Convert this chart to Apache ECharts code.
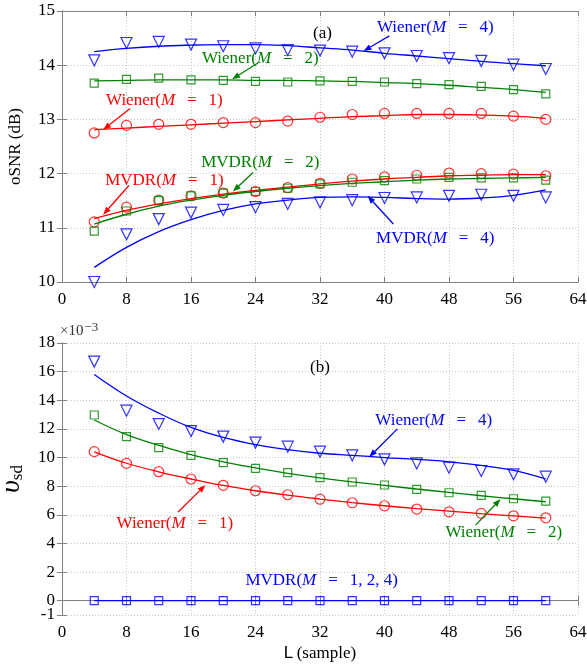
<!DOCTYPE html>
<html>
<head>
<meta charset="utf-8">
<script src="https://cdn.jsdelivr.net/npm/echarts@6/dist/echarts.min.js"></script>
<style>
  html, body { margin: 0; padding: 0; background: #fff; }
  #chart { width: 587px; height: 666px; }
</style>
</head>
<body>
<div id="chart"></div>
<script>
// frame lengths L (sample)
const L = [4, 8, 12, 16, 20, 24, 28, 32, 36, 40, 44, 48, 52, 56, 60]

// (a) oSNR in dB - markers
const snrWiener4 = [14.09, 14.41, 14.43, 14.38, 14.35, 14.31, 14.28, 14.27, 14.25, 14.22, 14.17, 14.13, 14.08, 14.01, 13.93]
const snrWiener2 = [13.67, 13.74, 13.76, 13.73, 13.72, 13.70, 13.69, 13.71, 13.70, 13.69, 13.66, 13.64, 13.61, 13.55, 13.47]
const snrWiener1 = [12.75, 12.89, 12.91, 12.91, 12.94, 12.94, 12.97, 13.04, 13.09, 13.11, 13.11, 13.11, 13.11, 13.06, 13.00]
const snrMvdr1 = [11.11, 11.38, 11.51, 11.59, 11.64, 11.67, 11.74, 11.82, 11.90, 11.94, 11.97, 12.01, 12.00, 11.99, 11.96]
const snrMvdr2 = [10.94, 11.31, 11.50, 11.59, 11.64, 11.67, 11.73, 11.81, 11.84, 11.87, 11.90, 11.93, 11.92, 11.92, 11.88]
const snrMvdr4 = [10.00, 10.88, 11.16, 11.28, 11.33, 11.38, 11.44, 11.47, 11.51, 11.55, 11.56, 11.59, 11.61, 11.59, 11.56]
// (a) fitted curves
const snrWiener4Fit = [14.25, 14.31, 14.35, 14.37, 14.38, 14.38, 14.36, 14.32, 14.28, 14.22, 14.17, 14.12, 14.07, 14.03, 13.99]
const snrWiener2Fit = [13.71, 13.72, 13.73, 13.73, 13.73, 13.72, 13.72, 13.71, 13.70, 13.68, 13.66, 13.63, 13.59, 13.55, 13.50]
const snrWiener1Fit = [12.81, 12.84, 12.87, 12.90, 12.93, 12.96, 12.99, 13.02, 13.05, 13.07, 13.09, 13.09, 13.08, 13.06, 13.02]
const snrMvdr1Fit = [11.17, 11.32, 11.44, 11.54, 11.62, 11.69, 11.75, 11.81, 11.86, 11.90, 11.93, 11.96, 11.97, 11.98, 11.98]
const snrMvdr2Fit = [11.07, 11.25, 11.40, 11.51, 11.60, 11.67, 11.73, 11.78, 11.82, 11.85, 11.88, 11.90, 11.91, 11.92, 11.93]
const snrMvdr4Fit = [10.27, 10.64, 10.93, 11.15, 11.32, 11.44, 11.51, 11.56, 11.57, 11.56, 11.54, 11.53, 11.55, 11.60, 11.70]

// (b) v_sd, x 1e-3 - markers
const vsdWiener4 = [16.70, 13.27, 12.34, 11.85, 11.46, 11.04, 10.76, 10.41, 10.15, 9.87, 9.59, 9.29, 9.06, 8.83, 8.66]
const vsdWiener2 = [12.97, 11.46, 10.69, 10.15, 9.64, 9.24, 8.94, 8.59, 8.29, 8.08, 7.78, 7.54, 7.35, 7.12, 6.96]
const vsdWiener1 = [10.41, 9.59, 9.01, 8.50, 8.06, 7.68, 7.40, 7.09, 6.84, 6.63, 6.40, 6.21, 6.10, 5.93, 5.79]
const vsdMvdr = [0, 0, 0, 0, 0, 0, 0, 0, 0, 0, 0, 0, 0, 0, 0]
// (b) fitted curves
const vsdWiener4Fit = [15.80, 14.30, 13.10, 12.10, 11.40, 10.90, 10.55, 10.30, 10.15, 10.00, 9.87, 9.70, 9.45, 9.10, 8.50]
const vsdWiener2Fit = [12.62, 11.60, 10.85, 10.20, 9.70, 9.27, 8.90, 8.58, 8.30, 8.05, 7.80, 7.56, 7.33, 7.12, 6.91]
const vsdWiener1Fit = [10.40, 9.60, 9.00, 8.50, 8.05, 7.68, 7.37, 7.10, 6.85, 6.63, 6.43, 6.25, 6.08, 5.92, 5.76]

// tick labels of the lower y axis (-1 drawn on its own axis so it is not hidden)
const vsdTicks = [-1, 0, 2, 4, 6, 8, 10, 12, 14, 16, 18]
const vsdLabels = [0, 2, 4, 6, 8, 10, 12, 14, 16, 18]
const vsdMinLabel = [-1]

// annotations: text centre and arrow (tail -> head) in data units
const annotA = [
  { pre: '(a)', color: '#000', x: 32.3, y: 14.59 },
  { pre: 'Wiener(', m: '4', color: '#0000ff', x: 46.3, y: 14.70, from: [40.6, 14.54], to: [37.4, 14.26] },
  { pre: 'Wiener(', m: '2', color: '#008000', x: 24.6, y: 14.13, from: [24.3, 14.04], to: [21.1, 13.74] },
  { pre: 'Wiener(', m: '1', color: '#ff0000', x: 12.7, y: 13.35, from: [8.45, 13.20], to: [5.1, 12.81] },
  { pre: 'MVDR(', m: '2', color: '#008000', x: 24.6, y: 12.20, from: [23.7, 12.02], to: [21.2, 11.67] },
  { pre: 'MVDR(', m: '1', color: '#ff0000', x: 12.7, y: 11.87, from: [8.3, 11.78], to: [5.1, 11.24] },
  { pre: 'MVDR(', m: '4', color: '#0000ff', x: 46.3, y: 10.81, from: [41.1, 11.07], to: [37.9, 11.59] }
]
const annotB = [
  { pre: '(b)', color: '#000', x: 32.0, y: 16.26 },
  { pre: 'Wiener(', m: '4', color: '#0000ff', x: 46.1, y: 12.55, from: [41.6, 12.0], to: [38.1, 10.03] },
  { pre: 'Wiener(', m: '1', color: '#ff0000', x: 14.0, y: 5.42, from: [14.4, 6.2], to: [17.8, 8.08] },
  { pre: 'Wiener(', m: '2', color: '#008000', x: 54.8, y: 4.79, from: [51.3, 5.28], to: [54.4, 7.1] },
  { pre: 'MVDR(', m: '1, 2, 4', color: '#0000ff', x: 32.2, y: 1.44 }
]

const SERIF = 'Liberation Serif'
const AXIS_GRAY = '#808080'
const GRID_GRAY = '#c8c8c8'

function pairs (ys) {
  return L.map((x, i) => [x, ys[i]])
}

function markers (ys, color, symbol, size, rotate, ax) {
  return {
    type: 'scatter',
    xAxisIndex: ax, yAxisIndex: ax,
    data: pairs(ys),
    symbol: symbol,
    symbolSize: size,
    symbolRotate: rotate,
    itemStyle: { color: 'rgba(0,0,0,0)', borderColor: color, borderWidth: 1.2 },
    z: 3
  }
}

function curve (ys, color, ax) {
  return {
    type: 'line',
    xAxisIndex: ax, yAxisIndex: ax,
    data: pairs(ys),
    smooth: 0.4,
    showSymbol: false,
    lineStyle: { color: color, width: 1.3 },
    z: 4
  }
}

function xAxisOf (grid, pos, labels, extra) {
  return Object.assign({
    type: 'value', gridIndex: grid, position: pos,
    min: 0, max: 64, interval: 8,
    axisLine: { show: true, lineStyle: { color: AXIS_GRAY, width: 1 } },
    axisTick: { show: true, inside: true, length: 5, lineStyle: { color: AXIS_GRAY } },
    axisLabel: { show: labels, margin: 9, color: '#000', fontFamily: SERIF, fontSize: 17 },
    splitLine: { show: labels, lineStyle: { color: GRID_GRAY, type: [1, 2], width: 1 } }
  }, extra || {})
}

let option = {
  backgroundColor: '#fff',
  animation: false,
  grid: [
    { left: 62, right: 9, top: 11, height: 271, outerBoundsMode: 'none', containLabel: false },
    { left: 62, right: 9, top: 343, height: 272, outerBoundsMode: 'none', containLabel: false }
  ],
  xAxis: [
    xAxisOf(0, 'bottom', true),
    xAxisOf(0, 'top', false),
    xAxisOf(1, 'bottom', true, {
      name: '{l|L} {s|(sample)}',
      nameLocation: 'middle',
      nameGap: 30,
      nameTextStyle: {
        rich: {
          l: { fontFamily: 'Liberation Sans', fontSize: 17, color: '#000' },
          s: { fontFamily: SERIF, fontSize: 17, color: '#000' }
        }
      }
    }),
    xAxisOf(1, 'top', false)
  ],
  yAxis: [
    {
      type: 'value', gridIndex: 0, position: 'left',
      min: 10, max: 15, interval: 1,
      name: 'oSNR (dB)', nameLocation: 'middle', nameGap: 38,
      nameTextStyle: { fontFamily: SERIF, fontSize: 17, color: '#000' },
      axisLine: { show: true, lineStyle: { color: AXIS_GRAY } },
      axisTick: { show: true, inside: true, length: 5, lineStyle: { color: AXIS_GRAY } },
      axisLabel: { margin: 7, color: '#000', fontFamily: SERIF, fontSize: 17 },
      splitLine: { show: true, lineStyle: { color: GRID_GRAY, type: [1, 2] } }
    },
    {
      type: 'value', gridIndex: 0, position: 'right',
      min: 10, max: 15, interval: 1,
      axisLine: { show: true, lineStyle: { color: AXIS_GRAY } },
      axisTick: { show: true, inside: true, length: 5, lineStyle: { color: AXIS_GRAY } },
      axisLabel: { show: false },
      splitLine: { show: false }
    },
    {
      type: 'value', gridIndex: 1, position: 'left',
      min: -1, max: 18,
      name: '{u|υ}{s|sd}', nameLocation: 'middle', nameGap: 36,
      nameTextStyle: {
        rich: {
          u: { fontFamily: SERIF, fontStyle: 'italic', fontSize: 28, color: '#000' },
          s: { fontFamily: SERIF, fontSize: 17, color: '#000', padding: [12, 0, 0, 0] }
        }
      },
      axisLine: { show: true, lineStyle: { color: AXIS_GRAY } },
      axisTick: { show: true, inside: true, length: 5, customValues: vsdTicks, lineStyle: { color: AXIS_GRAY } },
      axisLabel: {
        margin: 7, color: '#000', fontFamily: SERIF, fontSize: 17,
        customValues: vsdLabels, hideOverlap: false
      },
      splitLine: { show: true, lineStyle: { color: GRID_GRAY, type: [1, 2] } }
    },
    {
      type: 'value', gridIndex: 1, position: 'right',
      min: -1, max: 18,
      axisLine: { show: true, lineStyle: { color: AXIS_GRAY } },
      axisTick: { show: true, inside: true, length: 5, customValues: vsdTicks, lineStyle: { color: AXIS_GRAY } },
      axisLabel: { show: false, customValues: vsdTicks },
      splitLine: { show: false }
    },
    {
      type: 'value', gridIndex: 1, position: 'left',
      min: -1, max: 18,
      axisLine: { show: false },
      axisTick: { show: false },
      axisLabel: {
        margin: 7, color: '#000', fontFamily: SERIF, fontSize: 17,
        customValues: vsdMinLabel, showMinLabel: true
      },
      splitLine: { show: false }
    }
  ],
  series: [
    // (a)
    markers(snrWiener4, '#0000ff', 'triangle', 11, 180, 0),
    markers(snrWiener2, '#008000', 'rect', 8, 0, 0),
    markers(snrWiener1, '#ff0000', 'circle', 10, 0, 0),
    markers(snrMvdr1, '#ff0000', 'circle', 10, 0, 0),
    markers(snrMvdr2, '#008000', 'rect', 8, 0, 0),
    markers(snrMvdr4, '#0000ff', 'triangle', 11, 180, 0),
    curve(snrWiener4Fit, '#0000ff', 0),
    curve(snrWiener2Fit, '#008000', 0),
    curve(snrWiener1Fit, '#ff0000', 0),
    curve(snrMvdr1Fit, '#ff0000', 0),
    curve(snrMvdr2Fit, '#008000', 0),
    curve(snrMvdr4Fit, '#0000ff', 0),
    // (b)
    markers(vsdWiener4, '#0000ff', 'triangle', 11, 180, 2),
    markers(vsdWiener2, '#008000', 'rect', 8, 0, 2),
    markers(vsdWiener1, '#ff0000', 'circle', 10, 0, 2),
    markers(vsdMvdr, '#0000ff', 'rect', 8, 0, 2),
    curve(vsdWiener4Fit, '#0000ff', 2),
    curve(vsdWiener2Fit, '#008000', 2),
    curve(vsdWiener1Fit, '#ff0000', 2),
    curve(vsdMvdr, '#0000ff', 2)
  ]
}

let myChart = echarts.init(document.getElementById('chart'), null, { renderer: 'canvas' })
myChart.setOption(option)

// text + arrow annotations, placed through the axes
function buildAnnot (list, ax) {
  let els = []
  list.forEach(a => {
    let p = myChart.convertToPixel({ xAxisIndex: ax, yAxisIndex: ax }, [a.x, a.y])
    // wide spaces round "=" like the LaTeX maths spacing
    let txt = a.m ? a.pre + '{i|M}\u2002\u2009=\u2002\u2009' + a.m + ')' : a.pre
    els.push({
      type: 'text', x: p[0], y: p[1], z: 10,
      style: {
        text: txt, fill: a.color, font: '17px "' + SERIF + '"',
        align: 'center', verticalAlign: 'middle',
        rich: { i: { fontStyle: 'italic', fontFamily: SERIF, fontSize: 17, fill: a.color } }
      }
    })
    if (a.from) {
      let p0 = myChart.convertToPixel({ xAxisIndex: ax, yAxisIndex: ax }, a.from)
      let p1 = myChart.convertToPixel({ xAxisIndex: ax, yAxisIndex: ax }, a.to)
      let dx = p1[0] - p0[0], dy = p1[1] - p0[1]
      let len = Math.sqrt(dx * dx + dy * dy)
      let ux = dx / len, uy = dy / len
      let hl = 8, hw = 3
      let bx = p1[0] - ux * hl, by = p1[1] - uy * hl
      els.push({
        type: 'line', z: 10,
        shape: { x1: p0[0], y1: p0[1], x2: bx, y2: by },
        style: { stroke: a.color, lineWidth: 1.3 }
      })
      els.push({
        type: 'polygon', z: 10,
        shape: { points: [[p1[0], p1[1]], [bx - uy * hw, by + ux * hw], [bx + uy * hw, by - ux * hw]] },
        style: { fill: a.color }
      })
    }
  })
  return els
}

let gOrigin = myChart.convertToPixel({ xAxisIndex: 2, yAxisIndex: 2 }, [0, 18])
let graphics = buildAnnot(annotA, 0).concat(buildAnnot(annotB, 2))
graphics.push({
  type: 'text', x: gOrigin[0] - 2, y: gOrigin[1] - 2, z: 10,
  style: {
    text: '×10{sup|−3}', fill: '#333', font: '15px "' + SERIF + '"',
    align: 'left', verticalAlign: 'bottom',
    rich: { sup: { fontFamily: SERIF, fontSize: 13, fill: '#333', padding: [0, 0, 7, 1] } }
  }
})
myChart.setOption({ graphic: graphics })
</script>
</body>
</html>
